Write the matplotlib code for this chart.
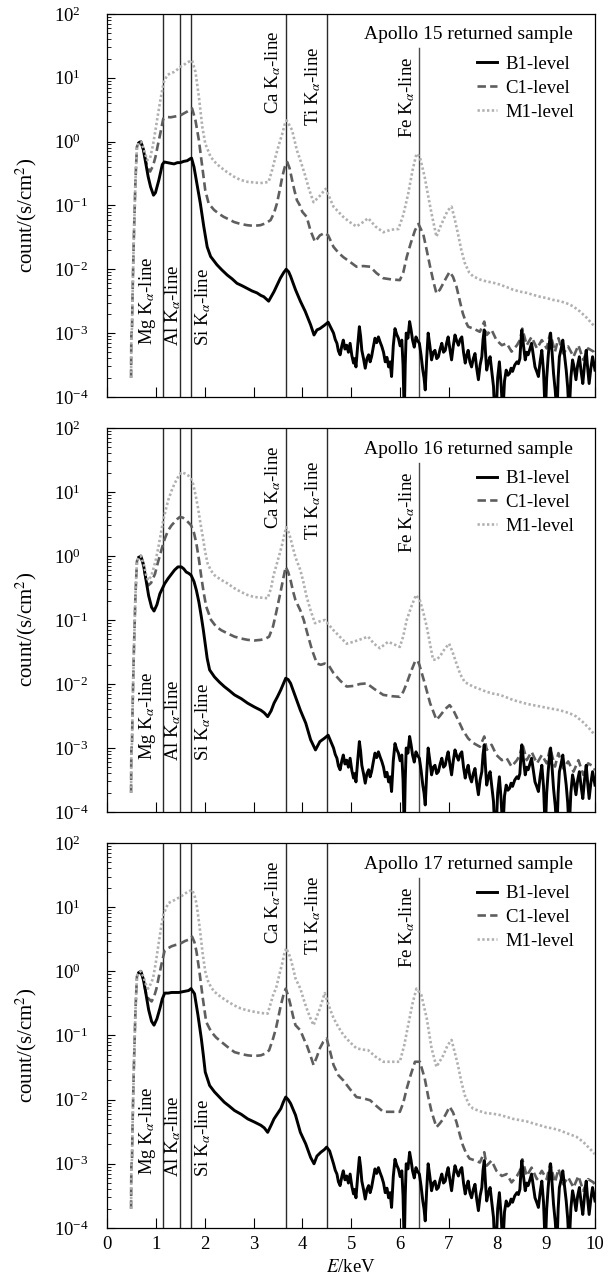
import numpy as np
import matplotlib
matplotlib.use("Agg")
import matplotlib.pyplot as plt
from matplotlib.ticker import LogLocator, NullFormatter, FixedLocator

plt.rcParams['font.family'] = ['Liberation Serif', 'DejaVu Serif']
plt.rcParams['mathtext.fontset'] = 'stix'

# ---------------- data: (energy keV, log10 count) ----------------
start = [(0.49, -3.70), (0.495, -3.05), (0.51, -2.9), (0.52, -2.4), (0.545, -1.55),
         (0.58, -0.6), (0.61, -0.08), (0.65, -0.02), (0.69, 0.0)]

b1_tail = [(4.64, -3.0), (4.675, -3.10), (4.71, -3.16), (4.74, -3.28), (4.775, -3.34), (4.81, -3.20),
           (4.84, -3.11), (4.875, -3.25), (4.91, -3.19), (4.945, -3.30), (4.98, -3.16), (5.015, -3.35),
           (5.05, -3.47), (5.075, -3.40), (5.10, -3.53), (5.135, -3.20), (5.17, -2.90), (5.195, -3.05),
           (5.22, -3.27), (5.255, -3.40), (5.29, -3.55), (5.325, -3.40), (5.36, -3.34), (5.39, -3.45),
           (5.42, -3.37), (5.455, -3.22), (5.49, -3.08), (5.525, -3.15), (5.56, -3.06), (5.595, -3.14),
           (5.63, -3.21), (5.665, -3.30), (5.70, -3.45), (5.735, -3.38), (5.77, -3.53), (5.80, -3.45),
           (5.83, -3.68), (5.865, -3.20), (5.90, -2.93), (5.935, -3.02), (5.97, -3.08), (6.005, -3.20),
           (6.04, -3.11), (6.065, -3.5), (6.09, -4.3), (6.11, -3.5), (6.13, -3.0), (6.165, -3.08),
           (6.20, -2.82), (6.23, -2.95), (6.26, -3.11), (6.295, -3.22), (6.33, -3.06), (6.365, -3.12),
           (6.40, -3.16), (6.435, -3.35), (6.47, -3.58), (6.495, -3.70), (6.52, -3.89), (6.55, -3.40),
           (6.58, -3.0), (6.615, -3.20), (6.65, -3.42), (6.685, -3.30), (6.72, -3.27), (6.755, -3.40),
           (6.79, -3.37), (6.825, -3.25), (6.86, -3.16), (6.895, -3.30), (6.93, -3.27), (6.96, -3.15),
           (6.99, -3.06), (7.025, -3.25), (7.06, -3.42), (7.095, -3.20), (7.13, -3.03), (7.165, -3.12),
           (7.20, -3.19), (7.235, -3.10), (7.27, -3.06), (7.305, -3.30), (7.34, -3.47), (7.37, -3.35),
           (7.40, -3.27), (7.435, -3.45), (7.47, -3.53), (7.505, -3.40), (7.54, -3.32), (7.575, -3.55),
           (7.61, -3.73), (7.645, -3.50), (7.68, -3.37), (7.705, -3.10), (7.73, -2.95), (7.755, -3.30),
           (7.78, -3.58), (7.815, -3.45), (7.85, -3.37), (7.885, -3.60), (7.92, -3.84), (7.945, -4.3),
           (7.97, -4.3), (8.005, -3.70), (8.04, -3.45), (8.075, -3.80), (8.11, -4.3), (8.145, -3.75),
           (8.18, -3.58), (8.215, -3.66), (8.25, -3.63), (8.28, -3.55), (8.31, -3.60), (8.355, -3.50),
           (8.40, -3.45), (8.43, -3.48), (8.46, -3.40), (8.48, -3.15), (8.50, -2.95), (8.535, -3.20),
           (8.57, -3.42), (8.60, -3.30), (8.63, -3.34), (8.665, -3.25), (8.70, -3.16), (8.735, -3.35),
           (8.77, -3.53), (8.805, -3.60), (8.84, -3.68), (8.875, -3.45), (8.91, -3.27), (8.945, -3.60),
           (8.98, -4.3), (9.01, -3.70), (9.04, -3.37), (9.065, -3.15), (9.09, -3.0), (9.12, -3.30),
           (9.15, -3.63), (9.185, -3.90), (9.22, -4.3), (9.245, -3.70), (9.27, -3.37), (9.305, -3.25),
           (9.34, -3.11), (9.375, -3.35), (9.41, -3.58), (9.44, -3.85), (9.47, -4.3), (9.505, -3.70),
           (9.54, -3.42), (9.575, -3.55), (9.61, -3.73), (9.645, -3.50), (9.68, -3.37), (9.715, -3.60),
           (9.75, -3.79), (9.785, -3.50), (9.82, -3.27), (9.85, -3.55), (9.88, -3.79), (9.915, -3.55),
           (9.95, -3.37), (9.975, -3.48), (10.0, -3.58)]

c1_tail = [(7.64, -2.98), (7.73, -2.82), (7.78, -3.03), (7.88, -2.95), (7.98, -3.11), (8.09, -3.19),
           (8.19, -3.16), (8.29, -3.29), (8.40, -3.19), (8.46, -3.11), (8.51, -2.93), (8.60, -3.19),
           (8.70, -3.06), (8.81, -3.24), (8.91, -3.11), (9.01, -3.24), (9.08, -3.0), (9.18, -3.29),
           (9.25, -3.08), (9.35, -3.32), (9.45, -3.21), (9.56, -3.37), (9.66, -3.19), (9.76, -3.42),
           (9.86, -3.24), (9.97, -3.29), (10.0, -3.35)]

a15_b1 = [(0.65, -0.02), (0.69, 0.0), (0.74, -0.12), (0.79, -0.34), (0.84, -0.55), (0.89, -0.71), (0.95, -0.84),
          (0.99, -0.80), (1.06, -0.60), (1.13, -0.36), (1.17, -0.32), (1.23, -0.33), (1.30, -0.34),
          (1.37, -0.35), (1.44, -0.33), (1.50, -0.33), (1.57, -0.31), (1.64, -0.30), (1.70, -0.27),
          (1.73, -0.26), (1.78, -0.40), (1.84, -0.66), (1.91, -0.97), (1.98, -1.33), (2.05, -1.65),
          (2.12, -1.80), (2.25, -1.93), (2.35, -2.01), (2.46, -2.09), (2.56, -2.15), (2.66, -2.22),
          (2.77, -2.26), (2.87, -2.30), (2.97, -2.34), (3.07, -2.37), (3.15, -2.41), (3.21, -2.43),
          (3.31, -2.50), (3.42, -2.35), (3.50, -2.22), (3.55, -2.14), (3.62, -2.05), (3.67, -2.0),
          (3.72, -2.04), (3.76, -2.11), (3.86, -2.32), (3.96, -2.50), (4.06, -2.66), (4.17, -2.87),
          (4.24, -3.03), (4.30, -2.95), (4.36, -2.93), (4.45, -2.88), (4.53, -2.83)]
a15_c1 = [(0.75, -0.15), (0.82, -0.40), (0.88, -0.47), (0.94, -0.38), (0.99, -0.24),
          (1.04, -0.05), (1.09, 0.13), (1.15, 0.36), (1.23, 0.385), (1.30, 0.38), (1.37, 0.39),
          (1.44, 0.40), (1.50, 0.41), (1.57, 0.44), (1.64, 0.47), (1.70, 0.50), (1.74, 0.52),
          (1.81, 0.33), (1.88, 0.02), (1.95, -0.40), (2.01, -0.76), (2.08, -0.97), (2.19, -1.07),
          (2.29, -1.13), (2.39, -1.18), (2.50, -1.22), (2.60, -1.26), (2.73, -1.29), (2.87, -1.31),
          (3.0, -1.32), (3.14, -1.31), (3.25, -1.28), (3.35, -1.23), (3.42, -1.12), (3.48, -0.97),
          (3.54, -0.75), (3.59, -0.55), (3.64, -0.40), (3.69, -0.32), (3.74, -0.42), (3.79, -0.60),
          (3.84, -0.77), (3.89, -0.92), (3.95, -1.0), (4.0, -1.10), (4.09, -1.18), (4.17, -1.40),
          (4.26, -1.57), (4.36, -1.47), (4.46, -1.43), (4.53, -1.47), (4.64, -1.65), (4.74, -1.74),
          (4.84, -1.81), (4.97, -1.88), (5.11, -1.96), (5.25, -1.95), (5.39, -1.96), (5.52, -2.06),
          (5.66, -2.14), (5.83, -2.16), (6.0, -2.17), (6.07, -2.05), (6.14, -1.81), (6.22, -1.6),
          (6.31, -1.39), (6.38, -1.29), (6.48, -1.45), (6.55, -1.70), (6.62, -1.96), (6.69, -2.2),
          (6.75, -2.38), (6.82, -2.32), (6.89, -2.22), (6.96, -2.12), (7.02, -2.04), (7.09, -2.12),
          (7.16, -2.27), (7.23, -2.5), (7.29, -2.69), (7.35, -2.82), (7.40, -2.90), (7.51, -2.93)]
a15_m1 = [(0.75, -0.12), (0.82, -0.29), (0.88, -0.26), (0.94, -0.05), (0.99, 0.18),
          (1.04, 0.42), (1.09, 0.65), (1.16, 0.93), (1.23, 1.04), (1.30, 1.07), (1.37, 1.09),
          (1.44, 1.13), (1.50, 1.17), (1.57, 1.20), (1.64, 1.24), (1.70, 1.26), (1.74, 1.27),
          (1.81, 1.09), (1.88, 0.70), (1.95, 0.23), (2.01, -0.03), (2.12, -0.24), (2.22, -0.33),
          (2.32, -0.40), (2.46, -0.48), (2.60, -0.55), (2.73, -0.60), (2.87, -0.63), (3.0, -0.64),
          (3.14, -0.65), (3.25, -0.64), (3.31, -0.63), (3.38, -0.45), (3.45, -0.24), (3.52, -0.05),
          (3.59, 0.125), (3.64, 0.27), (3.68, 0.33), (3.74, 0.25), (3.79, 0.18), (3.84, 0.02),
          (3.89, -0.14), (3.95, -0.27), (4.05, -0.51), (4.14, -0.75), (4.23, -0.95), (4.36, -0.85),
          (4.48, -0.74), (4.56, -0.88), (4.64, -1.02), (4.74, -1.10), (4.84, -1.18), (4.97, -1.26),
          (5.11, -1.33), (5.23, -1.27), (5.35, -1.20), (5.50, -1.33), (5.66, -1.42), (5.82, -1.38),
          (5.97, -1.37), (6.07, -1.15), (6.17, -0.82), (6.26, -0.45), (6.34, -0.19), (6.41, -0.24),
          (6.51, -0.56), (6.58, -0.85), (6.65, -1.13), (6.75, -1.49), (6.82, -1.35), (6.89, -1.23),
          (6.98, -1.08), (7.06, -1.02), (7.12, -1.20), (7.19, -1.44), (7.26, -1.70), (7.33, -1.90),
          (7.42, -2.05), (7.5, -2.11), (7.64, -2.16), (7.77, -2.19), (7.91, -2.21), (8.05, -2.24),
          (8.19, -2.28), (8.32, -2.32), (8.46, -2.35), (8.60, -2.37), (8.73, -2.40), (8.87, -2.43),
          (9.0, -2.45), (9.14, -2.48), (9.28, -2.50), (9.41, -2.53), (9.55, -2.58), (9.69, -2.66),
          (9.83, -2.76), (9.96, -2.87), (10.0, -2.9)]

a16_b1 = [(0.65, -0.02), (0.69, 0.0), (0.74, -0.12), (0.79, -0.35), (0.85, -0.62), (0.91, -0.80), (0.96, -0.86),
          (1.02, -0.76), (1.08, -0.59), (1.18, -0.43), (1.25, -0.35), (1.32, -0.28), (1.38, -0.22),
          (1.45, -0.17), (1.52, -0.17), (1.57, -0.20), (1.62, -0.25), (1.67, -0.27), (1.72, -0.30),
          (1.78, -0.40), (1.83, -0.54), (1.88, -0.72), (1.93, -0.95), (1.97, -1.15), (2.01, -1.37),
          (2.05, -1.60), (2.10, -1.78), (2.20, -1.89), (2.30, -1.97), (2.40, -2.04), (2.50, -2.10),
          (2.61, -2.17), (2.75, -2.23), (2.88, -2.30), (3.02, -2.36), (3.15, -2.41), (3.22, -2.45),
          (3.29, -2.51), (3.36, -2.42), (3.42, -2.30), (3.49, -2.20), (3.56, -2.09), (3.61, -2.00),
          (3.66, -1.91), (3.71, -1.93), (3.76, -1.99), (3.86, -2.20), (3.96, -2.41), (4.07, -2.61),
          (4.17, -2.87), (4.27, -3.03), (4.36, -2.90), (4.45, -2.85), (4.53, -2.80)]
a16_c1 = [(0.75, -0.18), (0.80, -0.38), (0.84, -0.46), (0.90, -0.42), (0.98, -0.28),
          (1.04, -0.10), (1.11, 0.09), (1.18, 0.27), (1.25, 0.40), (1.32, 0.48), (1.38, 0.53),
          (1.44, 0.58), (1.49, 0.61), (1.55, 0.60), (1.62, 0.56), (1.67, 0.52), (1.72, 0.48),
          (1.78, 0.36), (1.83, 0.19), (1.88, -0.05), (1.93, -0.33), (1.98, -0.58), (2.03, -0.79),
          (2.13, -1.0), (2.23, -1.10), (2.34, -1.16), (2.47, -1.21), (2.61, -1.26), (2.75, -1.29),
          (2.88, -1.31), (3.02, -1.32), (3.15, -1.31), (3.25, -1.29), (3.32, -1.26), (3.40, -1.10),
          (3.46, -0.90), (3.51, -0.72), (3.56, -0.54), (3.61, -0.35), (3.66, -0.17), (3.71, -0.25),
          (3.76, -0.38), (3.81, -0.55), (3.86, -0.69), (3.96, -0.85), (4.03, -1.0), (4.10, -1.20),
          (4.20, -1.47), (4.30, -1.68), (4.38, -1.70), (4.46, -1.68), (4.55, -1.72), (4.64, -1.83),
          (4.78, -1.95), (4.91, -2.04), (5.05, -2.03), (5.18, -2.00), (5.32, -1.99), (5.48, -2.08),
          (5.66, -2.17), (5.83, -2.19), (6.0, -2.20), (6.07, -2.12), (6.14, -1.99), (6.22, -1.82),
          (6.31, -1.65), (6.36, -1.63), (6.40, -1.70), (6.51, -1.99), (6.62, -2.30), (6.75, -2.56),
          (6.82, -2.50), (6.89, -2.43), (6.96, -2.37), (7.02, -2.33), (7.09, -2.40), (7.16, -2.51),
          (7.23, -2.62), (7.29, -2.72), (7.40, -2.85), (7.50, -2.92), (7.57, -2.95)]
a16_m1 = [(0.75, -0.13), (0.80, -0.30), (0.84, -0.38), (0.90, -0.32), (0.94, -0.22),
          (1.00, -0.05), (1.05, 0.14), (1.10, 0.35), (1.15, 0.56), (1.20, 0.72), (1.25, 0.87),
          (1.32, 1.02), (1.38, 1.13), (1.45, 1.23), (1.52, 1.31), (1.59, 1.29), (1.66, 1.26),
          (1.72, 1.20), (1.76, 1.13), (1.81, 0.96), (1.86, 0.76), (1.91, 0.52), (1.96, 0.30),
          (2.01, 0.06), (2.06, -0.12), (2.13, -0.23), (2.20, -0.30), (2.33, -0.37), (2.47, -0.43),
          (2.60, -0.50), (2.74, -0.56), (2.88, -0.61), (3.01, -0.64), (3.15, -0.65), (3.29, -0.66),
          (3.36, -0.50), (3.41, -0.30), (3.46, -0.17), (3.53, 0.02), (3.59, 0.19), (3.63, 0.33),
          (3.67, 0.45), (3.72, 0.37), (3.76, 0.27), (3.81, 0.12), (3.86, -0.02), (3.96, -0.22),
          (4.02, -0.40), (4.09, -0.64), (4.17, -0.85), (4.26, -1.05), (4.36, -1.02), (4.46, -1.00),
          (4.55, -1.08), (4.64, -1.16), (4.78, -1.27), (4.91, -1.37), (5.05, -1.34), (5.20, -1.30),
          (5.35, -1.26), (5.47, -1.37), (5.59, -1.44), (5.76, -1.34), (5.88, -1.38), (6.0, -1.42),
          (6.07, -1.25), (6.14, -1.00), (6.24, -0.78), (6.33, -0.61), (6.41, -0.69), (6.48, -0.88),
          (6.55, -1.10), (6.62, -1.38), (6.68, -1.62), (6.75, -1.62), (6.82, -1.57), (6.92, -1.45),
          (7.01, -1.37), (7.08, -1.50), (7.16, -1.68), (7.24, -1.85), (7.33, -1.97), (7.5, -2.04),
          (7.64, -2.08), (7.77, -2.12), (7.91, -2.15), (8.05, -2.17), (8.19, -2.21), (8.32, -2.25),
          (8.46, -2.28), (8.60, -2.31), (8.73, -2.33), (8.87, -2.35), (9.0, -2.37), (9.14, -2.39),
          (9.28, -2.41), (9.41, -2.44), (9.55, -2.48), (9.62, -2.51), (9.76, -2.60), (9.90, -2.71),
          (10.0, -2.80)]

a17_b1 = [(0.65, -0.02), (0.69, 0.0), (0.74, -0.12), (0.79, -0.33), (0.85, -0.60), (0.91, -0.78), (0.96, -0.84),
          (1.02, -0.74), (1.08, -0.58), (1.13, -0.43), (1.18, -0.34), (1.25, -0.34), (1.32, -0.33),
          (1.40, -0.33), (1.47, -0.33), (1.54, -0.32), (1.61, -0.31), (1.67, -0.30), (1.72, -0.27),
          (1.79, -0.35), (1.86, -0.68), (1.93, -1.05), (1.97, -1.30), (2.01, -1.57), (2.10, -1.78),
          (2.20, -1.88), (2.30, -1.96), (2.40, -2.04), (2.50, -2.10), (2.61, -2.17), (2.75, -2.23),
          (2.88, -2.30), (3.02, -2.35), (3.15, -2.40), (3.22, -2.44), (3.29, -2.51), (3.36, -2.40),
          (3.42, -2.30), (3.49, -2.22), (3.56, -2.14), (3.61, -2.04), (3.66, -1.96), (3.71, -2.00),
          (3.76, -2.06), (3.86, -2.24), (3.96, -2.51), (4.07, -2.69), (4.17, -2.90), (4.24, -3.0),
          (4.30, -2.88), (4.38, -2.82), (4.45, -2.78), (4.50, -2.74), (4.56, -2.80)]
a17_c1 = [(0.75, -0.16), (0.80, -0.36), (0.84, -0.42), (0.91, -0.47), (0.96, -0.40),
          (1.01, -0.27), (1.06, -0.08), (1.11, 0.10), (1.18, 0.33), (1.25, 0.36), (1.32, 0.39),
          (1.40, 0.41), (1.46, 0.42), (1.52, 0.44), (1.59, 0.47), (1.66, 0.49), (1.74, 0.54),
          (1.79, 0.45), (1.83, 0.31), (1.89, 0.0), (1.96, -0.42), (2.03, -0.79), (2.13, -0.94),
          (2.23, -1.03), (2.34, -1.10), (2.47, -1.18), (2.61, -1.26), (2.75, -1.29), (2.88, -1.31),
          (3.02, -1.32), (3.15, -1.31), (3.25, -1.28), (3.32, -1.23), (3.40, -1.05), (3.46, -0.89),
          (3.51, -0.71), (3.56, -0.53), (3.61, -0.38), (3.66, -0.27), (3.71, -0.38), (3.76, -0.53),
          (3.81, -0.70), (3.86, -0.84), (3.96, -0.92), (4.03, -1.05), (4.10, -1.17), (4.17, -1.32),
          (4.23, -1.46), (4.30, -1.33), (4.36, -1.20), (4.43, -1.10), (4.50, -1.05), (4.57, -1.25),
          (4.64, -1.46), (4.74, -1.62), (4.84, -1.70), (4.97, -1.83), (5.11, -1.96), (5.25, -1.98),
          (5.39, -2.01), (5.52, -2.10), (5.66, -2.19), (5.83, -2.19), (6.0, -2.19), (6.07, -2.05),
          (6.14, -1.83), (6.22, -1.62), (6.31, -1.41), (6.41, -1.41), (6.51, -1.67), (6.58, -1.95),
          (6.65, -2.19), (6.75, -2.43), (6.82, -2.37), (6.89, -2.30), (6.96, -2.20), (7.02, -2.11),
          (7.09, -2.20), (7.16, -2.35), (7.23, -2.55), (7.29, -2.71), (7.36, -2.84), (7.43, -2.92),
          (7.55, -2.95)]
a17_m1 = [(0.75, -0.10), (0.80, -0.22), (0.84, -0.27), (0.89, -0.20), (0.94, -0.11),
          (1.0, 0.15), (1.05, 0.41), (1.10, 0.66), (1.15, 0.88), (1.25, 1.06), (1.32, 1.09),
          (1.38, 1.11), (1.45, 1.14), (1.52, 1.17), (1.59, 1.21), (1.66, 1.24), (1.74, 1.27),
          (1.79, 1.18), (1.83, 1.06), (1.89, 0.72), (1.96, 0.26), (2.01, 0.0), (2.06, -0.14),
          (2.13, -0.25), (2.20, -0.32), (2.33, -0.40), (2.47, -0.47), (2.60, -0.53), (2.74, -0.58),
          (2.88, -0.61), (3.01, -0.63), (3.15, -0.65), (3.29, -0.66), (3.36, -0.48), (3.41, -0.35),
          (3.46, -0.27), (3.53, -0.05), (3.59, 0.13), (3.63, 0.27), (3.67, 0.36), (3.72, 0.28),
          (3.76, 0.20), (3.81, 0.05), (3.86, -0.11), (3.96, -0.27), (4.02, -0.42), (4.09, -0.58),
          (4.16, -0.72), (4.23, -0.84), (4.30, -0.70), (4.36, -0.58), (4.46, -0.34), (4.55, -0.55),
          (4.64, -0.73), (4.74, -0.87), (4.84, -0.99), (4.97, -1.10), (5.11, -1.20), (5.23, -1.22),
          (5.35, -1.23), (5.50, -1.33), (5.66, -1.41), (5.83, -1.41), (6.0, -1.41), (6.09, -1.15),
          (6.17, -0.84), (6.26, -0.50), (6.34, -0.27), (6.44, -0.37), (6.55, -0.73), (6.65, -1.20),
          (6.75, -1.49), (6.82, -1.40), (6.89, -1.31), (6.98, -1.15), (7.06, -1.07), (7.12, -1.25),
          (7.19, -1.46), (7.26, -1.72), (7.33, -1.93), (7.42, -2.08), (7.5, -2.14), (7.64, -2.18),
          (7.77, -2.21), (7.91, -2.22), (8.05, -2.24), (8.19, -2.27), (8.32, -2.30), (8.46, -2.32),
          (8.60, -2.34), (8.73, -2.37), (8.87, -2.40), (9.0, -2.43), (9.14, -2.45), (9.28, -2.48),
          (9.41, -2.52), (9.55, -2.56), (9.62, -2.58), (9.76, -2.66), (9.90, -2.77), (10.0, -2.85)]

titles = ["Apollo 15 returned sample", "Apollo 16 returned sample", "Apollo 17 returned sample"]
levels = ["B1-level", "C1-level", "M1-level"]
line_names = ["Mg", "Al", "Si", "Ca", "Ti", "Fe"]
line_energy = [1.15, 1.49, 1.72, 3.67, 4.51, 6.40]
label_x = [0.82, 1.35, 1.97, 3.40, 4.22, 6.15]
label_bottom = [-3.18, -3.20, -3.20, 0.43, 0.25, 0.05]
fe_top = 1.46
x_ticks = list(range(0, 11))
y_ticks = [1e-4, 1e-3, 1e-2, 1e-1, 1e0, 1e1, 1e2]

panels = [
    (a15_b1 + b1_tail, start + a15_c1 + c1_tail, start + a15_m1),
    (a16_b1 + b1_tail, start + a16_c1 + c1_tail, start + a16_m1),
    (a17_b1 + b1_tail, start + a17_c1 + c1_tail, start + a17_m1),
]

fig = plt.figure(figsize=(6.09, 12.85), dpi=100)
rects = [(0.176, 0.6911, 0.801, 0.2981),
         (0.176, 0.3681, 0.801, 0.2988),
         (0.176, 0.0444, 0.801, 0.2996)]

styles = [dict(color='black', lw=2.1, ls='-'),
          dict(color='#5e5e5e', lw=1.9, ls=(0, (3.2, 1.6))),
          dict(color='#b0b0b0', lw=1.9, ls=(0, (0.9, 0.9)))]
zorders = [4, 3, 5]

FS = 13.5
for i, (rect, series) in enumerate(zip(rects, panels)):
    ax = fig.add_axes(rect)
    handles = [None] * 3
    for k in (1, 0, 2):
        pts = series[k]
        e = np.array([p[0] for p in pts])
        v = 10.0 ** np.array([p[1] for p in pts])
        h, = ax.plot(e, v, zorder=zorders[k], label=levels[k], **styles[k])
        handles[k] = h
    ax.set_yscale('log')
    ax.set_xlim(0, 10)
    ax.set_ylim(1e-4, 1e2)

    for name, en, lx, lb in zip(line_names, line_energy, label_x, label_bottom):
        if name == 'Fe':
            ax.plot([en, en], [1e-4, 10 ** fe_top], color='#4a4a4a', lw=1.0, zorder=2)
        else:
            ax.axvline(en, color='#2a2a2a', lw=1.0, zorder=2)
        ax.text(lx, 10 ** lb, name + r' K$_{\alpha}$-line', rotation=90, ha='center', va='bottom',
                fontsize=FS, zorder=6)

    ax.text(0.955, 0.945, titles[i], transform=ax.transAxes, ha='right', va='center', fontsize=14)
    ax.legend(handles=handles, loc='upper right', bbox_to_anchor=(0.985, 0.925), frameon=False,
              fontsize=FS, handlelength=1.1, handletextpad=0.45, labelspacing=0.36,
              borderpad=0.2)

    ax.xaxis.set_major_locator(FixedLocator(x_ticks))
    ax.yaxis.set_major_locator(FixedLocator(y_ticks))
    ax.yaxis.set_minor_locator(LogLocator(base=10, subs=np.arange(2, 10), numticks=10))
    ax.yaxis.set_minor_formatter(NullFormatter())
    ax.set_ylim(1e-4, 1e2)
    ax.tick_params(axis='x', which='major', direction='in', length=7, width=0.8,
                   labelsize=FS, pad=6, top=False)
    ax.tick_params(axis='y', which='major', direction='in', length=6, width=0.8,
                   labelsize=FS, pad=38, right=False)
    ax.tick_params(axis='y', which='minor', direction='in', length=3, width=0.6, right=False)
    for lab in ax.get_yticklabels():
        lab.set_horizontalalignment('left')
    if i < 2:
        ax.tick_params(axis='x', labelbottom=False)
    else:
        ax.set_xlabel(r'$E$/keV', fontsize=FS, labelpad=4)
    ax.set_ylabel(r'count/(s/cm$^2$)', fontsize=15)
    ax.yaxis.set_label_coords(-0.14, 0.475)
    for s in ax.spines.values():
        s.set_linewidth(0.9)

fig.savefig('out.png', dpi=100)
